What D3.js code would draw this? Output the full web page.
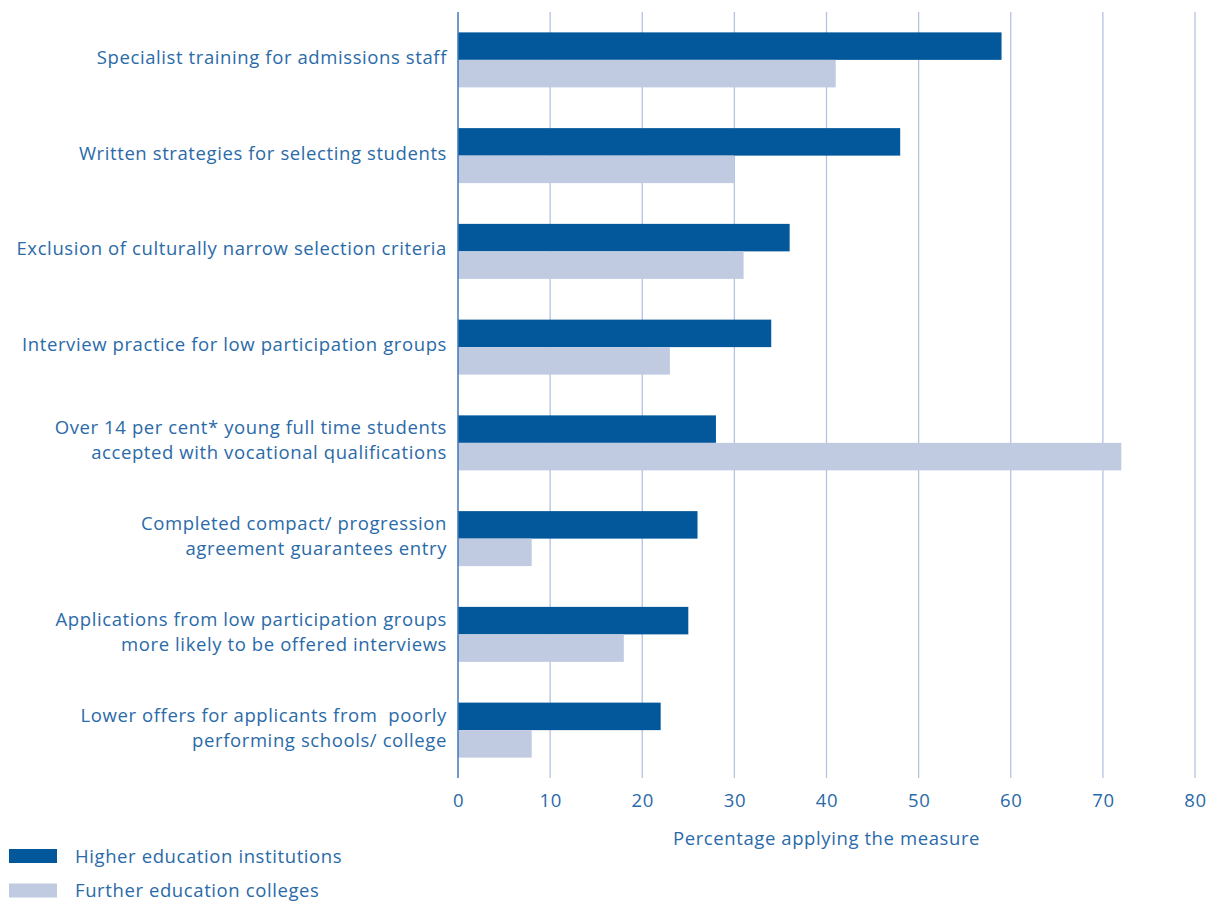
<!DOCTYPE html>
<html>
<head>
<meta charset="utf-8">
<script src="https://cdn.jsdelivr.net/npm/d3@7"></script>
<style>
  html, body { margin: 0; padding: 0; background: #ffffff; }
  svg text { font-family: "Open Sans", Lato, sans-serif; fill: #2a6aa8; letter-spacing: 0.6px; white-space: pre; }
</style>
</head>
<body>
<svg id="chart" width="1210" height="904"></svg>
<script>
// Admissions measures, each label split into display lines
const categories = [
  ["Specialist training for admissions staff"],
  ["Written strategies for selecting students"],
  ["Exclusion of culturally narrow selection criteria"],
  ["Interview practice for low participation groups"],
  ["Over 14 per cent* young full time students", "accepted with vocational qualifications"],
  ["Completed compact/ progression", "agreement guarantees entry"],
  ["Applications from low participation groups", "more likely to be offered interviews"],
  ["Lower offers for applicants from  poorly", "performing schools/ college"]
];
const higherEducation = [59, 48, 36, 34, 28, 26, 25, 22];
const furtherEducation = [41, 30, 31, 23, 72, 8, 18, 8];
const tickValues = [0, 10, 20, 30, 40, 50, 60, 70, 80];
const seriesNames = ["Higher education institutions", "Further education colleges"];
const seriesColors = ["#03589b", "#c0cbe2"];

const svg = d3.select("#chart");
const margin = { left: 458, right: 15, top: 12, bottom: 126 };
const W = 1210, H = 904;
const fontSize = 18.5;

const x = d3.scaleLinear().domain([0, 80]).range([margin.left, W - margin.right]);
const y = d3.scaleBand().domain(d3.range(categories.length))
  .range([margin.top, H - margin.bottom]).paddingInner(0).paddingOuter(0);
const barH = 27.5;
const groupOffset = (y.bandwidth() - 2 * barH) / 2;

// vertical gridlines
svg.append("g").selectAll("line").data(tickValues.slice(1)).join("line")
  .attr("x1", d => x(d)).attr("x2", d => x(d))
  .attr("y1", margin.top).attr("y2", H - margin.bottom)
  .attr("stroke", "#b3c3e0").attr("stroke-width", 1.3);

// bars
const groups = svg.append("g").selectAll("g").data(categories).join("g")
  .attr("transform", (d, i) => `translate(0,${y(i) + groupOffset})`);
groups.append("rect")
  .attr("x", x(0)).attr("y", 0)
  .attr("width", (d, i) => x(higherEducation[i]) - x(0))
  .attr("height", barH).attr("fill", seriesColors[0]);
groups.append("rect")
  .attr("x", x(0)).attr("y", barH)
  .attr("width", (d, i) => x(furtherEducation[i]) - x(0))
  .attr("height", barH).attr("fill", seriesColors[1]);

// zero axis line
svg.append("line")
  .attr("x1", x(0)).attr("x2", x(0))
  .attr("y1", margin.top).attr("y2", H - margin.bottom)
  .attr("stroke", "#3f78b8").attr("stroke-width", 1.5);

// category labels
const lineGap = 25;
groups.append("text")
  .attr("text-anchor", "end")
  .attr("font-size", fontSize)
  .selectAll("tspan").data(d => d.map((t, k) => ({ t, k, n: d.length }))).join("tspan")
  .attr("x", x(0) - 11)
  .attr("y", d => barH + 4 + (d.k - (d.n - 1) / 2) * lineGap)
  .text(d => d.t);

// x axis tick labels
const xAxis = d3.axisBottom(x).tickValues(tickValues).tickSize(0).tickPadding(0);
const axisG = svg.append("g").attr("transform", `translate(0,${H - margin.bottom + 12})`).call(xAxis);
axisG.select(".domain").remove();
axisG.selectAll("text").attr("font-size", fontSize).attr("dy", "0.9em")
  .style("font-family", "'Open Sans', Lato, sans-serif").attr("fill", "#2a6aa8");

// axis title
svg.append("text").attr("x", (x(0) + x(80)) / 2).attr("y", 845)
  .attr("text-anchor", "middle").attr("font-size", fontSize)
  .text("Percentage applying the measure");

// legend
const legend = svg.append("g").selectAll("g").data(seriesNames).join("g")
  .attr("transform", (d, i) => `translate(9,${849 + i * 34.5})`);
legend.append("rect").attr("width", 48).attr("height", 14).attr("fill", (d, i) => seriesColors[i]);
legend.append("text").attr("x", 66).attr("y", 13.5).attr("font-size", fontSize).text(d => d);
</script>
</body>
</html>
